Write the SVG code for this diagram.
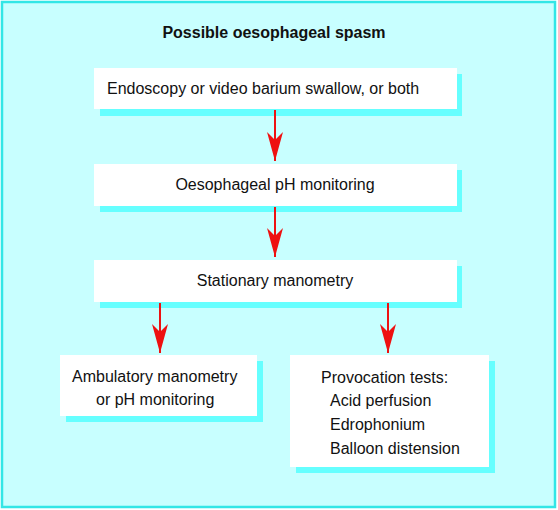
<svg xmlns="http://www.w3.org/2000/svg" width="558" height="510" viewBox="0 0 558 510">
<style>
.shadow{fill:#66ffff}
.box{fill:#ffffff}
text{font-family:"Liberation Sans",Arial,sans-serif;font-size:16px;fill:#111}
.title{font-weight:bold}
.conn line{stroke:#ee1111;stroke-width:2}
</style>
<defs>
<marker id="ah" markerWidth="30" markerHeight="16" refX="29" refY="8" orient="auto" markerUnits="userSpaceOnUse" viewBox="0 0 30 16">
<path d="M0,0 L8,8 L0,16 L29,8 Z" fill="#ee1111"/>
</marker>
</defs>
<rect x="2" y="2" width="553" height="505" fill="#c8ffff" stroke="#33e6e6" stroke-width="2.5"/>
<text class="title" x="274" y="38" text-anchor="middle">Possible oesophageal spasm</text>
<g id="n1">
<rect class="shadow" x="100" y="74" width="362" height="42"/>
<rect class="box" x="94" y="68" width="363" height="41"/>
<text x="107" y="94">Endoscopy or video barium swallow, or both</text>
</g>
<g id="n2">
<rect class="shadow" x="100" y="170" width="362" height="42"/>
<rect class="box" x="94" y="164" width="363" height="42"/>
<text x="275" y="190" text-anchor="middle">Oesophageal pH monitoring</text>
</g>
<g id="n3">
<rect class="shadow" x="100" y="266" width="362" height="42"/>
<rect class="box" x="94" y="260" width="363" height="42"/>
<text x="275" y="286" text-anchor="middle">Stationary manometry</text>
</g>
<g id="n4">
<rect class="shadow" x="66" y="361" width="197" height="61"/>
<rect class="box" x="60" y="355" width="197" height="61"/>
<text x="72" y="382">Ambulatory manometry</text>
<text x="96" y="405">or pH monitoring</text>
</g>
<g id="n5">
<rect class="shadow" x="296" y="361" width="199" height="112"/>
<rect class="box" x="290" y="355" width="199" height="112"/>
<text x="321" y="383">Provocation tests:</text>
<text x="330" y="406">Acid perfusion</text>
<text x="330" y="430">Edrophonium</text>
<text x="330" y="454">Balloon distension</text>
</g>
<g id="connectors" class="conn">
<line x1="275" y1="110" x2="275" y2="161" marker-end="url(#ah)"/>
<line x1="275" y1="207" x2="275" y2="257" marker-end="url(#ah)"/>
<line x1="160" y1="303" x2="160" y2="353" marker-end="url(#ah)"/>
<line x1="388" y1="303" x2="388" y2="353" marker-end="url(#ah)"/>
</g>
</svg>
